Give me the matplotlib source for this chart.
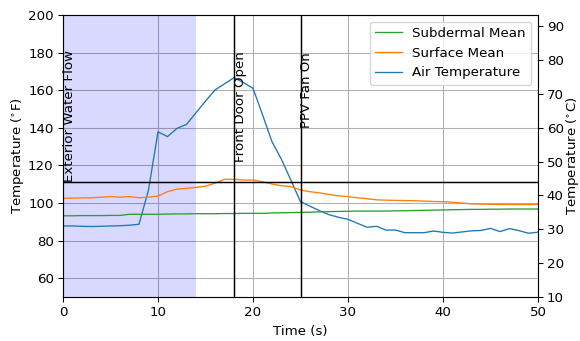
import matplotlib
matplotlib.use("Agg")
import matplotlib.pyplot as plt
import numpy as np

time_s = list(range(0, 51))
air_temp_f = [87.8, 87.8, 87.6, 87.5, 87.6, 87.8, 87.9, 88.2, 88.7, 106.9,
              137.9, 135.3, 139.7, 141.8, 148.0, 154.2, 160.1, 163.4, 166.7, 164.0,
              161.0, 147.0, 132.6, 123.2, 112.0, 100.7, 98.3, 95.9, 93.8, 92.4,
              91.3, 89.2, 87.1, 87.6, 85.6, 85.6, 84.2, 84.2, 84.2, 85.1,
              84.4, 84.0, 84.6, 85.2, 85.4, 86.5, 84.8, 86.4, 85.3, 83.9, 84.5]
surface_f = [102.5, 102.6, 102.7, 102.8, 103.1, 103.4, 103.1, 103.4, 102.8, 103.1,
             103.7, 106.0, 107.4, 107.8, 108.3, 109.0, 110.5, 112.6, 112.6, 112.2,
             112.2, 111.3, 110.1, 109.2, 108.7, 106.9, 106.0, 105.4, 104.6, 103.8,
             103.4, 102.8, 102.3, 101.7, 101.5, 101.4, 101.3, 101.2, 101.0, 100.8,
             100.7, 100.4, 100.0, 99.5, 99.4, 99.3, 99.2, 99.2, 99.2, 99.2, 99.2]
subdermal_f = [93.2, 93.2, 93.3, 93.3, 93.3, 93.4, 93.4, 94.0, 94.0, 94.0,
               94.0, 94.1, 94.2, 94.2, 94.3, 94.3, 94.3, 94.4, 94.4, 94.5,
               94.5, 94.5, 94.7, 94.8, 94.9, 95.0, 95.1, 95.3, 95.4, 95.5,
               95.6, 95.7, 95.7, 95.7, 95.7, 95.8, 95.9, 96.0, 96.1, 96.2,
               96.3, 96.4, 96.5, 96.6, 96.6, 96.7, 96.7, 96.8, 96.8, 96.8, 96.8]

events_t = [0, 18, 25]
events_label = ["Exterior Water Flow", "Front Door Open", "PPV Fan On"]
events_label_c = [44, 50, 60]
water_flow_span = (0, 14)
threshold_c = 44

def f2c(f):
    return (np.asarray(f) - 32) / 1.8

DPI = 96
fig = plt.figure(figsize=(580 / DPI, 341 / DPI), dpi=DPI)
ax = fig.add_axes([63/580, 1 - 297/341, (538 - 63)/580, (297 - 15)/341])
ax2 = ax.twinx()

ax.axvspan(*water_flow_span, color='b', alpha=0.15, lw=0)
ax.grid(True)
ax.set_axisbelow(True)

l_air, = ax.plot(time_s, air_temp_f, color='C0', lw=1.0, label='Air Temperature')
l_surf, = ax.plot(time_s, surface_f, color='C1', lw=1.0, label='Surface Mean')
l_sub, = ax.plot(time_s, subdermal_f, color='C2', lw=1.0, label='Subdermal Mean')

ax.set_xlim(0, 50)
ax.set_ylim(50, 200)
ax2.set_ylim(f2c(50), f2c(200))
ax2.set_yticks([10, 20, 30, 40, 50, 60, 70, 80, 90])

ax2.axhline(threshold_c, color='k', lw=1.1)
for t, lab, yc in zip(events_t, events_label, events_label_c):
    if t > 0:
        ax2.axvline(t, color='k', lw=1.1)
    ax2.text(t, yc, lab, rotation=90, ha='left', va='bottom', fontsize=10)

ax.set_xlabel('Time (s)', fontsize=10)
ax.set_ylabel(r'Temperature ($^{\circ}$F)', fontsize=10, labelpad=1.5)
ax2.set_ylabel(r'Temperature ($^{\circ}$C)', fontsize=10, labelpad=0)
ax.tick_params(labelsize=10)
ax2.tick_params(labelsize=10, pad=3)

ax2.legend([l_sub, l_surf, l_air], ['Subdermal Mean', 'Surface Mean', 'Air Temperature'],
           loc='upper right', fontsize=10)

fig.savefig('out.png', dpi=DPI)
